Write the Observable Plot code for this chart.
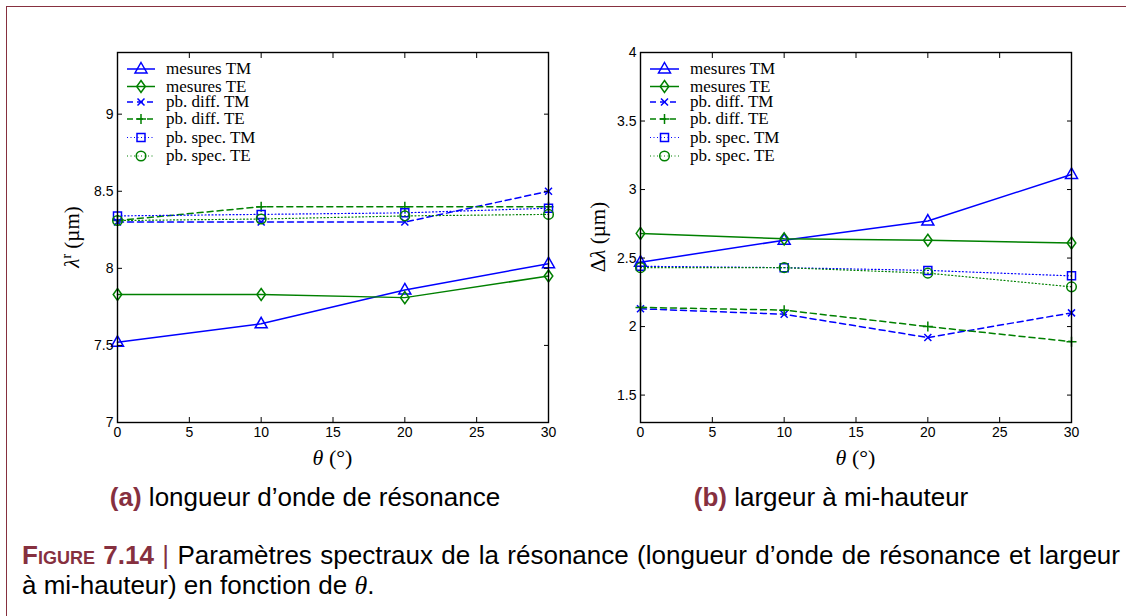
<!DOCTYPE html>
<html><head><meta charset="utf-8">
<script src="https://cdn.jsdelivr.net/npm/d3@7"></script>
<script src="https://cdn.jsdelivr.net/npm/@observablehq/plot@0.6"></script>
<style>
html,body{margin:0;padding:0;background:#fff;}
#page{position:relative;width:1126px;height:616px;overflow:hidden;font-family:"Liberation Sans",Arial,sans-serif;color:#000;}
#frame{position:absolute;left:6px;top:6px;right:-4px;bottom:-4px;border-top:1.5px solid #86303f;border-left:1.5px solid #86303f;}
.panel{position:absolute;top:0;}
#overlay{position:absolute;left:0;top:0;}
.sub{position:absolute;font-size:26px;line-height:30px;white-space:nowrap;transform:translateX(-50%);}
.sub b{color:#86303f;}
.cap{position:absolute;left:22px;font-size:26px;line-height:30px;white-space:nowrap;}
.cap1{width:1098px;text-align:justify;text-align-last:justify;}
.fig{color:#86303f;font-weight:bold;font-variant:small-caps;}
.bar{color:#86303f;}
.th{font-family:"Liberation Serif",serif;font-style:italic;}
</style></head>
<body><div id="page">
<div id="frame"></div>
<div class="panel" id="pa" style="left:0"></div>
<div class="panel" id="pb" style="left:560px"></div>
<svg id="overlay" width="1126" height="616"></svg>
<div class="sub" style="left:305px;top:482px"><b>(a)</b> longueur d’onde de résonance</div>
<div class="sub" style="left:831px;top:482px"><b>(b)</b> largeur à mi-hauteur</div>
<div class="cap cap1" style="top:540px"><span class="fig">Figure 7.14</span> <span class="bar">|</span> Paramètres spectraux de la résonance (longueur d’onde de résonance et largeur</div>
<div class="cap" style="top:570px">à mi-hauteur) en fonction de <span class="th">θ</span>.</div>
</div>
<script>
// ---- data ----
const theta = [0, 10, 20, 30];
const xTicks = [0, 5, 10, 15, 20, 25, 30];
const seriesNames = ["mesures TM", "mesures TE", "pb. diff. TM", "pb. diff. TE", "pb. spec. TM", "pb. spec. TE"];

const lambdaMesTM  = [7.52, 7.64, 7.86, 8.03];
const lambdaMesTE  = [7.83, 7.83, 7.81, 7.95];
const lambdaDiffTM = [8.30, 8.30, 8.30, 8.50];
const lambdaDiffTE = [8.31, 8.40, 8.40, 8.40];
const lambdaSpecTM = [8.34, 8.35, 8.36, 8.39];
const lambdaSpecTE = [8.31, 8.32, 8.34, 8.35];
const lambdaTicks = [7, 7.5, 8, 8.5, 9];

const widthMesTM  = [2.47, 2.63, 2.77, 3.11];
const widthMesTE  = [2.68, 2.64, 2.63, 2.61];
const widthDiffTM = [2.13, 2.09, 1.92, 2.10];
const widthDiffTE = [2.14, 2.12, 2.00, 1.89];
const widthSpecTM = [2.44, 2.43, 2.41, 2.37];
const widthSpecTE = [2.43, 2.43, 2.39, 2.29];
const widthTicks = [1.5, 2, 2.5, 3, 3.5, 4];

// ---- styles ----
const BLUE = "#0000ff", GREEN = "#008000";
const sym = {
  tri: {draw(c){c.moveTo(0,-6.5);c.lineTo(6,4);c.lineTo(-6,4);c.closePath();}},
  dia: {draw(c){c.moveTo(0,-6);c.lineTo(4.3,0);c.lineTo(0,6);c.lineTo(-4.3,0);c.closePath();}},
  times: {draw(c){c.moveTo(-3.5,-3.5);c.lineTo(3.5,3.5);c.moveTo(-3.5,3.5);c.lineTo(3.5,-3.5);}},
  plus: {draw(c){c.moveTo(-5,0);c.lineTo(5,0);c.moveTo(0,-5);c.lineTo(0,5);}},
  sq: {draw(c){c.rect(-4,-4,8,8);}},
  circ: {draw(c){c.moveTo(4.8,0);c.arc(0,0,4.8,0,2*Math.PI);c.closePath();}}
};
const styles = [
  {stroke: BLUE,  dash: null,    sw: 1.5, symbol: sym.tri},
  {stroke: GREEN, dash: null,    sw: 1.5, symbol: sym.dia},
  {stroke: BLUE,  dash: "6,4",   sw: 1.5, symbol: sym.times},
  {stroke: GREEN, dash: "6,4",   sw: 1.5, symbol: sym.plus},
  {stroke: BLUE,  dash: "1,2.5", sw: 1.2, symbol: sym.sq},
  {stroke: GREEN, dash: "1,2.5", sw: 1.2, symbol: sym.circ}
];
const fmt = d => String(d);

function panel(valuesList, yDomain, yTicks, ml, mr) {
  const marks = [];
  valuesList.forEach((vals, i) => {
    const s = styles[i];
    const data = theta.map((t, j) => ({t, v: vals[j]}));
    marks.push(Plot.line(data, {x: "t", y: "v", stroke: s.stroke, strokeWidth: s.sw, strokeDasharray: s.dash}));
    marks.push(Plot.dot(data, {x: "t", y: "v", symbol: s.symbol, stroke: s.stroke, fill: "none", strokeWidth: 1.5}));
  });
  return Plot.plot({
    width: 560, height: 475,
    marginTop: 52, marginBottom: 53, marginLeft: ml, marginRight: mr,
    x: {domain: [0, 30]},
    y: {domain: yDomain},
    style: {fontFamily: "'Liberation Sans', Arial, sans-serif", fontSize: "14px", color: "#000", background: "transparent", overflow: "visible"},
    marks: [
      ...marks,
      Plot.frame({stroke: "#000", strokeWidth: 1.4}),
      Plot.axisX(xTicks, {anchor: "bottom", tickSize: -5, tickPadding: 10, tickFormat: fmt, label: null}),
      Plot.axisX(xTicks, {anchor: "top", tickSize: -5, tickFormat: () => "", label: null}),
      Plot.axisY(yTicks, {anchor: "left", tickSize: -5, tickPadding: 9, tickFormat: fmt, label: null}),
      Plot.axisY(yTicks, {anchor: "right", tickSize: -5, tickFormat: () => "", label: null})
    ]
  });
}
document.getElementById("pa").appendChild(panel([lambdaMesTM, lambdaMesTE, lambdaDiffTM, lambdaDiffTE, lambdaSpecTM, lambdaSpecTE], [7, 9.4], lambdaTicks, 117, 12));
document.getElementById("pb").appendChild(panel([widthMesTM, widthMesTE, widthDiffTM, widthDiffTE, widthSpecTM, widthSpecTE], [1.3, 4], widthTicks, 80, 49));

// ---- overlay: axis titles and legends ----
const ov = d3.select("#overlay");
const serif = "'Liberation Serif', 'Times New Roman', serif";
function xTitle(cx) {
  const t = ov.append("text").attr("x", cx).attr("y", 465).attr("text-anchor", "middle")
    .attr("font-family", serif).attr("font-size", 22);
  t.append("tspan").attr("font-style", "italic").text("θ");
  t.append("tspan").text(" (°)");
}
xTitle(332.5); xTitle(855.5);
const yl = ov.append("text").attr("transform", "translate(79,237) rotate(-90)").attr("text-anchor", "middle")
  .attr("font-family", serif).attr("font-size", 21);
yl.append("tspan").attr("font-style", "italic").text("λ");
yl.append("tspan").attr("font-size", 14).attr("dy", -8).text("r");
yl.append("tspan").attr("dy", 8).text(" (µm)");
const yr = ov.append("text").attr("transform", "translate(605,237) rotate(-90)").attr("text-anchor", "middle")
  .attr("font-family", serif).attr("font-size", 21);
yr.append("tspan").text("Δ");
yr.append("tspan").attr("font-style", "italic").text("λ");
yr.append("tspan").text(" (µm)");

const rowsY = [69, 86.5, 102, 119, 137.5, 156];
function legend(x0, x1, tx) {
  seriesNames.forEach((name, i) => {
    const s = styles[i], y = rowsY[i];
    ov.append("line").attr("x1", x0).attr("x2", x1).attr("y1", y).attr("y2", y)
      .attr("stroke", s.stroke).attr("stroke-width", s.sw).attr("stroke-dasharray", s.dash);
    const p = d3.path(); s.symbol.draw(p);
    ov.append("path").attr("d", p.toString()).attr("transform", `translate(${(x0 + x1) / 2},${y})`)
      .attr("fill", "none").attr("stroke", s.stroke).attr("stroke-width", 1.5);
    ov.append("text").attr("x", tx).attr("y", y).attr("dy", "0.32em").attr("font-family", serif)
      .attr("font-size", 17).text(name);
  });
}
legend(127, 155, 166);
legend(650, 679, 690);
</script>
</body></html>
